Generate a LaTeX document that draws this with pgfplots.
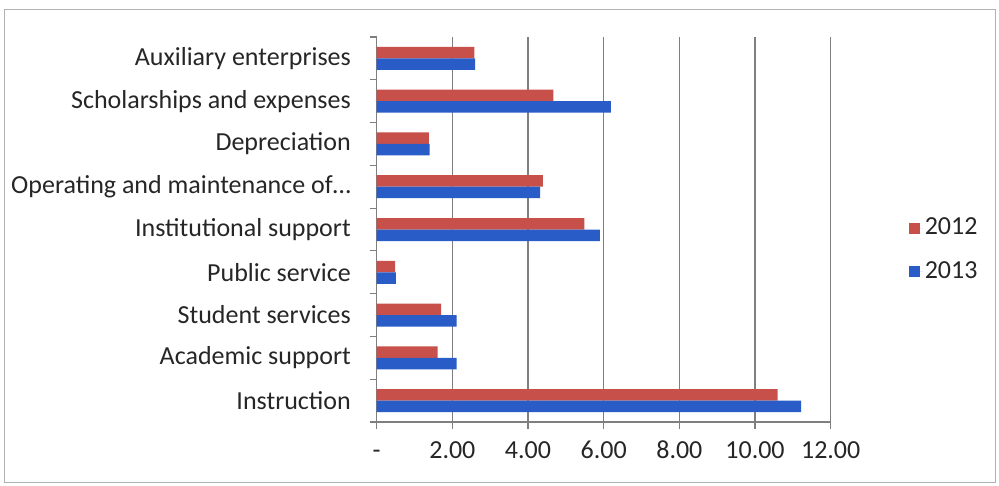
\documentclass[border=0pt]{standalone}
\usepackage{pgfplots}
\pgfplotsset{compat=1.18}
\usepackage{fontspec}
\setmainfont{Carlito}
\definecolor{red12}{HTML}{C8504A}
\definecolor{blue13}{HTML}{2A5CC8}
\definecolor{gridgray}{HTML}{7F7F7F}
\begin{document}
\fontsize{26bp}{30bp}\selectfont
\begin{tikzpicture}
\useasboundingbox (0,0) rectangle (999bp,486bp);
\draw[color=black!30, line width=1bp] (4bp,3bp) rectangle (995bp,476bp);
\begin{axis}[
  at={(376.7bp,64bp)}, anchor=south west,
  scale only axis, width=454bp, height=385bp,
  xbar, bar width=11.5bp,
  xmin=0, xmax=12, ymin=-0.5, ymax=8.5,
  axis x line=bottom, axis y line=left,
  axis line style={-, draw=gridgray, line width=1.2bp},
  xmajorgrids, grid style={draw=gridgray, line width=1.2bp},
  xtick={0,2,...,12},
  xticklabels={-,2.00,4.00,6.00,8.00,10.00,12.00},
  ytick={-0.5,0.5,...,8.5},
  yticklabels={},
  extra y ticks={0,1,2,3,4,5,6,7,8},
  extra y tick labels={Instruction,Academic support,Student services,Public service,Institutional support,Operating and maintenance of…,Depreciation,Scholarships and expenses,Auxiliary enterprises},
  extra y tick style={tick style={draw=none}, yticklabel style={xshift=-10bp}},
  tick align=outside, major tick length=7bp,
  tick style={draw=gridgray, line width=1.2bp},
  /pgf/number format/assume math mode=true,
  tick label style={font=\fontsize{26bp}{30bp}\selectfont, text=black!85},
  xticklabel style={yshift=-4bp, text height=0.64em, text depth=0pt},
  legend style={draw=none, fill=none, at={(axis description cs:1.165,0.447)}, anchor=west,
    font=\fontsize{26bp}{30bp}\selectfont, text=black!85, row sep=19bp},
  legend cell align=left,
  legend image code/.code={\fill[#1] (0bp,-5.5bp) rectangle (11bp,5.5bp); \path (0bp,0bp) -- (14bp,0bp);},
]
\addplot[draw=none, fill=red12, bar shift=5.75bp] coordinates {
  (10.60,0) (1.61,1) (1.70,2) (0.49,3) (5.49,4) (4.39,5) (1.38,6) (4.67,7) (2.58,8)};
\addlegendentry{2012}
\addplot[draw=none, fill=blue13, bar shift=-5.75bp] coordinates {
  (11.22,0) (2.11,1) (2.11,2) (0.51,3) (5.90,4) (4.32,5) (1.40,6) (6.19,7) (2.60,8)};
\addlegendentry{2013}
\end{axis}
\end{tikzpicture}
\end{document}
